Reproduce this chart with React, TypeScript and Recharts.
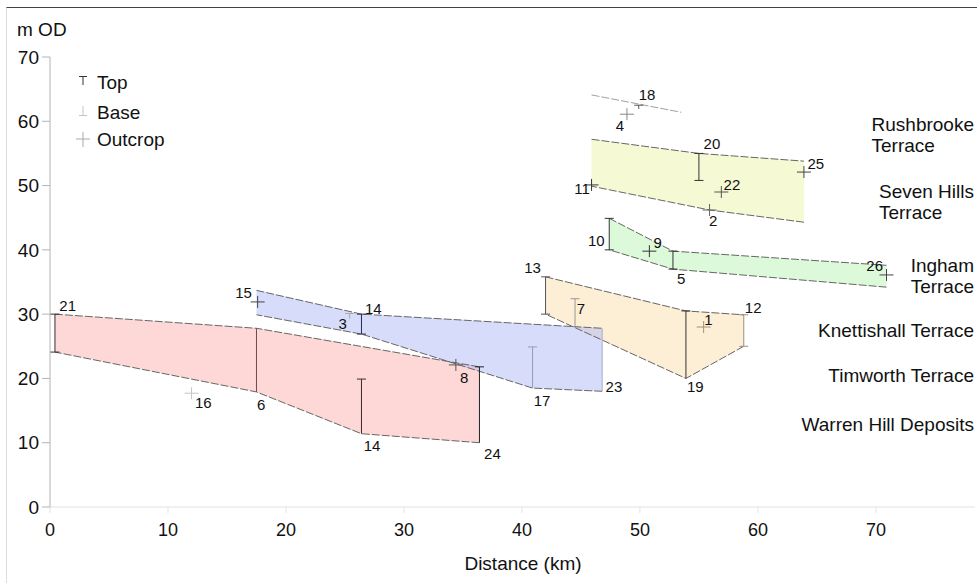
import { ScatterChart, Scatter, XAxis, YAxis } from 'recharts';

const xTicks = [0, 10, 20, 30, 40, 50, 60, 70];
const yTicks = [0, 10, 20, 30, 40, 50, 60, 70];

// terrace bodies: upper surface west -> east, lower surface east -> west
const warrenTop = [{ x: 0.42, y: 30.0 }, { x: 17.5, y: 27.8 }, { x: 36.4, y: 21.8 }];
const warrenBase = [{ x: 36.4, y: 10.0 }, { x: 26.4, y: 11.4 }, { x: 17.5, y: 17.9 }, { x: 0.42, y: 24.1 }];

const timworthTop = [{ x: 17.5, y: 33.7 }, { x: 26.4, y: 30.0 }, { x: 46.8, y: 27.8 }];
const timworthBase = [{ x: 46.8, y: 18.0 }, { x: 40.9, y: 18.5 }, { x: 26.4, y: 26.9 }, { x: 17.5, y: 29.9 }];

const knettishallTop = [{ x: 42.0, y: 35.8 }, { x: 53.9, y: 30.5 }, { x: 58.8, y: 29.9 }];
const knettishallBase = [{ x: 58.8, y: 25.0 }, { x: 53.9, y: 20.0 }, { x: 42.0, y: 30.0 }];

const inghamTop = [{ x: 47.4, y: 44.9 }, { x: 52.8, y: 39.8 }, { x: 70.9, y: 37.6 }];
const inghamBase = [{ x: 70.9, y: 34.2 }, { x: 52.8, y: 37.0 }, { x: 47.4, y: 40.0 }];

const sevenHillsTop = [{ x: 45.9, y: 57.2 }, { x: 55.0, y: 55.0 }, { x: 63.9, y: 53.8 }];
const sevenHillsBase = [{ x: 63.9, y: 44.3 }, { x: 55.9, y: 46.2 }, { x: 45.9, y: 49.9 }];

const rushbrookeLine = [{ x: 45.9, y: 64.1 }, { x: 53.5, y: 61.4 }];

// boreholes: top and base of the deposit
const boreholes = [
  { key: '21', x: 0.42, top: 30.0, base: 24.1 },
  { key: '6', x: 17.5, top: 27.8, base: 17.9 },
  { key: '14b', x: 26.4, top: 19.9, base: 11.4 },
  { key: '24', x: 36.4, top: 21.8, base: 10.0 },
  { key: '14a', x: 26.4, top: 30.0, base: 26.9 },
  { key: '3', x: 25.4, top: 30.1, base: 29.3 },
  { key: '17', x: 40.9, top: 24.9, base: 18.5 },
  { key: '23', x: 46.8, top: 27.8, base: 18.0 },
  { key: '13', x: 42.0, top: 35.8, base: 30.0 },
  { key: '7', x: 44.5, top: 32.4, base: 28.0 },
  { key: '19', x: 53.9, top: 30.5, base: 20.0 },
  { key: '12', x: 58.8, top: 29.9, base: 25.0 },
  { key: '10', x: 47.4, top: 44.9, base: 40.0 },
  { key: '5', x: 52.8, top: 39.8, base: 37.0 },
  { key: '20', x: 55.0, top: 55.0, base: 50.8 },
  { key: '18', x: 49.9, top: 62.5, base: 61.9 },
];

const outcrops = [
  { key: '16', x: 12.0, y: 17.7 },
  { key: '8', x: 34.4, y: 22.1 },
  { key: '15', x: 17.6, y: 31.9 },
  { key: '1', x: 55.4, y: 28.0 },
  { key: '9', x: 50.8, y: 39.8 },
  { key: '26', x: 70.9, y: 36.1 },
  { key: '11', x: 45.9, y: 50.1 },
  { key: '22', x: 56.9, y: 49.0 },
  { key: '2', x: 55.9, y: 46.2 },
  { key: '25', x: 63.9, y: 52.1 },
  { key: '4', x: 48.9, y: 61.1 },
];

const pointLabels = [
  { text: '21', x: 1.5, y: 31.3 },
  { text: '16', x: 13.0, y: 16.2 },
  { text: '6', x: 17.9, y: 15.9 },
  { text: '15', x: 16.4, y: 33.3 },
  { text: '14', x: 27.4, y: 30.9 },
  { text: '3', x: 24.8, y: 28.6 },
  { text: '8', x: 35.1, y: 20.2 },
  { text: '14', x: 27.3, y: 9.6 },
  { text: '24', x: 37.5, y: 8.4 },
  { text: '17', x: 41.7, y: 16.6 },
  { text: '23', x: 47.8, y: 18.8 },
  { text: '7', x: 45.0, y: 30.9 },
  { text: '13', x: 40.9, y: 37.2 },
  { text: '19', x: 54.7, y: 18.7 },
  { text: '1', x: 55.8, y: 29.2 },
  { text: '12', x: 59.6, y: 31.1 },
  { text: '10', x: 46.3, y: 41.4 },
  { text: '9', x: 51.5, y: 41.2 },
  { text: '5', x: 53.5, y: 35.6 },
  { text: '26', x: 69.9, y: 37.5 },
  { text: '11', x: 45.1, y: 49.6 },
  { text: '20', x: 56.1, y: 56.6 },
  { text: '22', x: 57.8, y: 50.2 },
  { text: '2', x: 56.2, y: 44.6 },
  { text: '25', x: 64.9, y: 53.5 },
  { text: '18', x: 50.6, y: 64.1 },
  { text: '4', x: 48.3, y: 59.4 },
];

const terraceNames = [
  ['Rushbrooke', 'Terrace'],
  ['Seven Hills', 'Terrace'],
  ['Ingham', 'Terrace'],
  ['Knettishall Terrace'],
  ['Timworth Terrace'],
  ['Warren Hill Deposits'],
];
const terraceNameTops = [114, 181, 255, 320, 365, 414];

const FONT = "'Liberation Sans', Arial, Helvetica, sans-serif";
const EDGE = '#666';

const bodies = [
  { top: warrenTop, base: warrenBase, fill: '#fdb0b0' },
  { top: knettishallTop, base: knettishallBase, fill: '#fbddad' },
  { top: timworthTop, base: timworthBase, fill: '#adb9f5' },
  { top: inghamTop, base: inghamBase, fill: '#b9f5b5' },
  { top: sevenHillsTop, base: sevenHillsBase, fill: '#edf5a9' },
];

const boreStyle: Record<string, { color: string; capTop: boolean; capBase: boolean }> = {
  '21': { color: '#333', capTop: true, capBase: true },
  '6': { color: '#6e4a4a', capTop: false, capBase: false },
  '14b': { color: '#3a2a2a', capTop: true, capBase: false },
  '24': { color: '#222', capTop: true, capBase: false },
  '14a': { color: '#2a2a55', capTop: true, capBase: true },
  '3': { color: '#aaaaaa', capTop: true, capBase: false },
  '17': { color: '#9a9ab2', capTop: true, capBase: false },
  '23': { color: '#a8accb', capTop: false, capBase: false },
  '13': { color: '#555', capTop: true, capBase: true },
  '7': { color: '#999', capTop: true, capBase: false },
  '19': { color: '#333', capTop: true, capBase: false },
  '12': { color: '#9a9080', capTop: true, capBase: true },
  '10': { color: '#333', capTop: true, capBase: true },
  '5': { color: '#333', capTop: true, capBase: true },
  '20': { color: '#333', capTop: true, capBase: true },
  '18': { color: '#555', capTop: true, capBase: false },
};

const crossColor: Record<string, string> = {
  '16': '#c4c4c4', '8': '#555', '15': '#444', '1': '#a39078', '9': '#333', '26': '#444',
  '11': '#333', '22': '#555', '2': '#666', '25': '#444', '4': '#888',
};

const noShape = () => <g />;

const capShape = (color: string) => (p: any) => {
  if (!p.payload.cap) return <g />;
  return <line x1={p.cx - 4.5} x2={p.cx + 4.5} y1={p.cy} y2={p.cy} stroke={color} strokeWidth={1} />;
};

const crossShape = (p: any) => {
  const c = crossColor[p.payload.key];
  return (
    <g stroke={c} strokeWidth={1}>
      <line x1={p.cx - 7} x2={p.cx + 7} y1={p.cy} y2={p.cy} />
      <line x1={p.cx} x2={p.cx} y1={p.cy - 6} y2={p.cy + 6} />
    </g>
  );
};

const labelShape = (p: any) => (
  <text x={p.cx} y={p.cy} textAnchor="middle" dominantBaseline="central" fontSize={15} fontFamily={FONT} fill="#111">
    {p.payload.text}
  </text>
);

function Legend() {
  return (
    <svg width={130} height={80} style={{ position: 'absolute', left: 70, top: 70 }}>
      <g stroke="#333" strokeWidth={1}>
        <line x1={9} x2={17} y1={6.5} y2={6.5} />
        <line x1={13} x2={13} y1={6.5} y2={15} />
      </g>
      <g stroke="#c4c4c4" strokeWidth={1}>
        <line x1={9} x2={17} y1={45.5} y2={45.5} />
        <line x1={13} x2={13} y1={36} y2={45.5} />
      </g>
      <g stroke="#aaa" strokeWidth={1}>
        <line x1={6} x2={20} y1={69} y2={69} />
        <line x1={13} x2={13} y1={62} y2={77} />
      </g>
      <g fontFamily={FONT} fontSize={19} fill="#111" dominantBaseline="central">
        <text x={27} y={12}>Top</text>
        <text x={27} y={42}>Base</text>
        <text x={27} y={69}>Outcrop</text>
      </g>
    </svg>
  );
}

export default function App() {
  return (
    <div style={{ position: 'absolute', left: 0, top: 0, width: 977, height: 583, background: '#fff', fontFamily: FONT }}>
      <div style={{ position: 'absolute', left: 6, top: 7, right: 0, bottom: 0, borderTop: '1px solid #444', borderLeft: '1px solid #dcdcdc' }} />
      <ScatterChart width={977} height={583} margin={{ top: 57, right: 2, bottom: 0, left: 0 }}>
        <XAxis
          type="number"
          dataKey="x"
          domain={[0, 78.4]}
          ticks={xTicks}
          allowDataOverflow
          height={76}
          stroke="#e2e2e2"
          tickSize={6}
          tickMargin={10}
          tick={{ fill: '#111', fontSize: 18, fontFamily: FONT }}
        />
        <YAxis
          type="number"
          dataKey="y"
          domain={[0, 70]}
          ticks={yTicks}
          allowDataOverflow
          width={50}
          stroke="#b4b4b4"
          tickSize={8}
          tickMargin={3}
          tick={{ fill: '#111', fontSize: 19, fontFamily: FONT }}
        />
        {bodies.map((b, i) => (
          <Scatter
            key={'fill' + i}
            data={[...b.top, ...b.base]}
            line={{ fill: b.fill, fillOpacity: 0.5, stroke: 'none' }}
            shape={noShape}
            isAnimationActive={false}
          />
        ))}
        {bodies.map((b, i) => (
          <Scatter
            key={'top' + i}
            data={b.top}
            line={{ stroke: EDGE, strokeDasharray: '8 2', strokeWidth: 1 }}
            shape={noShape}
            isAnimationActive={false}
          />
        ))}
        {bodies.map((b, i) => (
          <Scatter
            key={'base' + i}
            data={b.base}
            line={{ stroke: EDGE, strokeDasharray: '8 2', strokeWidth: 1 }}
            shape={noShape}
            isAnimationActive={false}
          />
        ))}
        <Scatter
          data={rushbrookeLine}
          line={{ stroke: '#a0a0a0', strokeDasharray: '8 2', strokeWidth: 1 }}
          shape={noShape}
          isAnimationActive={false}
        />
        {boreholes.map((b) => {
          const s = boreStyle[b.key];
          return (
            <Scatter
              key={'bh' + b.key}
              data={[
                { x: b.x, y: b.top, cap: s.capTop },
                { x: b.x, y: b.base, cap: s.capBase },
              ]}
              line={{ stroke: s.color, strokeWidth: 1 }}
              shape={capShape(s.color)}
              isAnimationActive={false}
            />
          );
        })}
        <Scatter data={outcrops} shape={crossShape} isAnimationActive={false} />
        <Scatter data={pointLabels} shape={labelShape} isAnimationActive={false} />
      </ScatterChart>
      <div style={{ position: 'absolute', left: 17, top: 19, fontSize: 19, color: '#111' }}>m OD</div>
      <div style={{ position: 'absolute', left: 523, top: 553, transform: 'translateX(-50%)', fontSize: 19, color: '#111', whiteSpace: 'nowrap' }}>
        Distance (km)
      </div>
      <Legend />
      {terraceNames.map((lines, i) => (
        <div
          key={i}
          style={{ position: 'absolute', right: 3, top: terraceNameTops[i], fontSize: 19, lineHeight: '21px', color: '#111', whiteSpace: 'nowrap' }}
        >
          {lines.map((l) => (
            <div key={l}>{l}</div>
          ))}
        </div>
      ))}
    </div>
  );
}
